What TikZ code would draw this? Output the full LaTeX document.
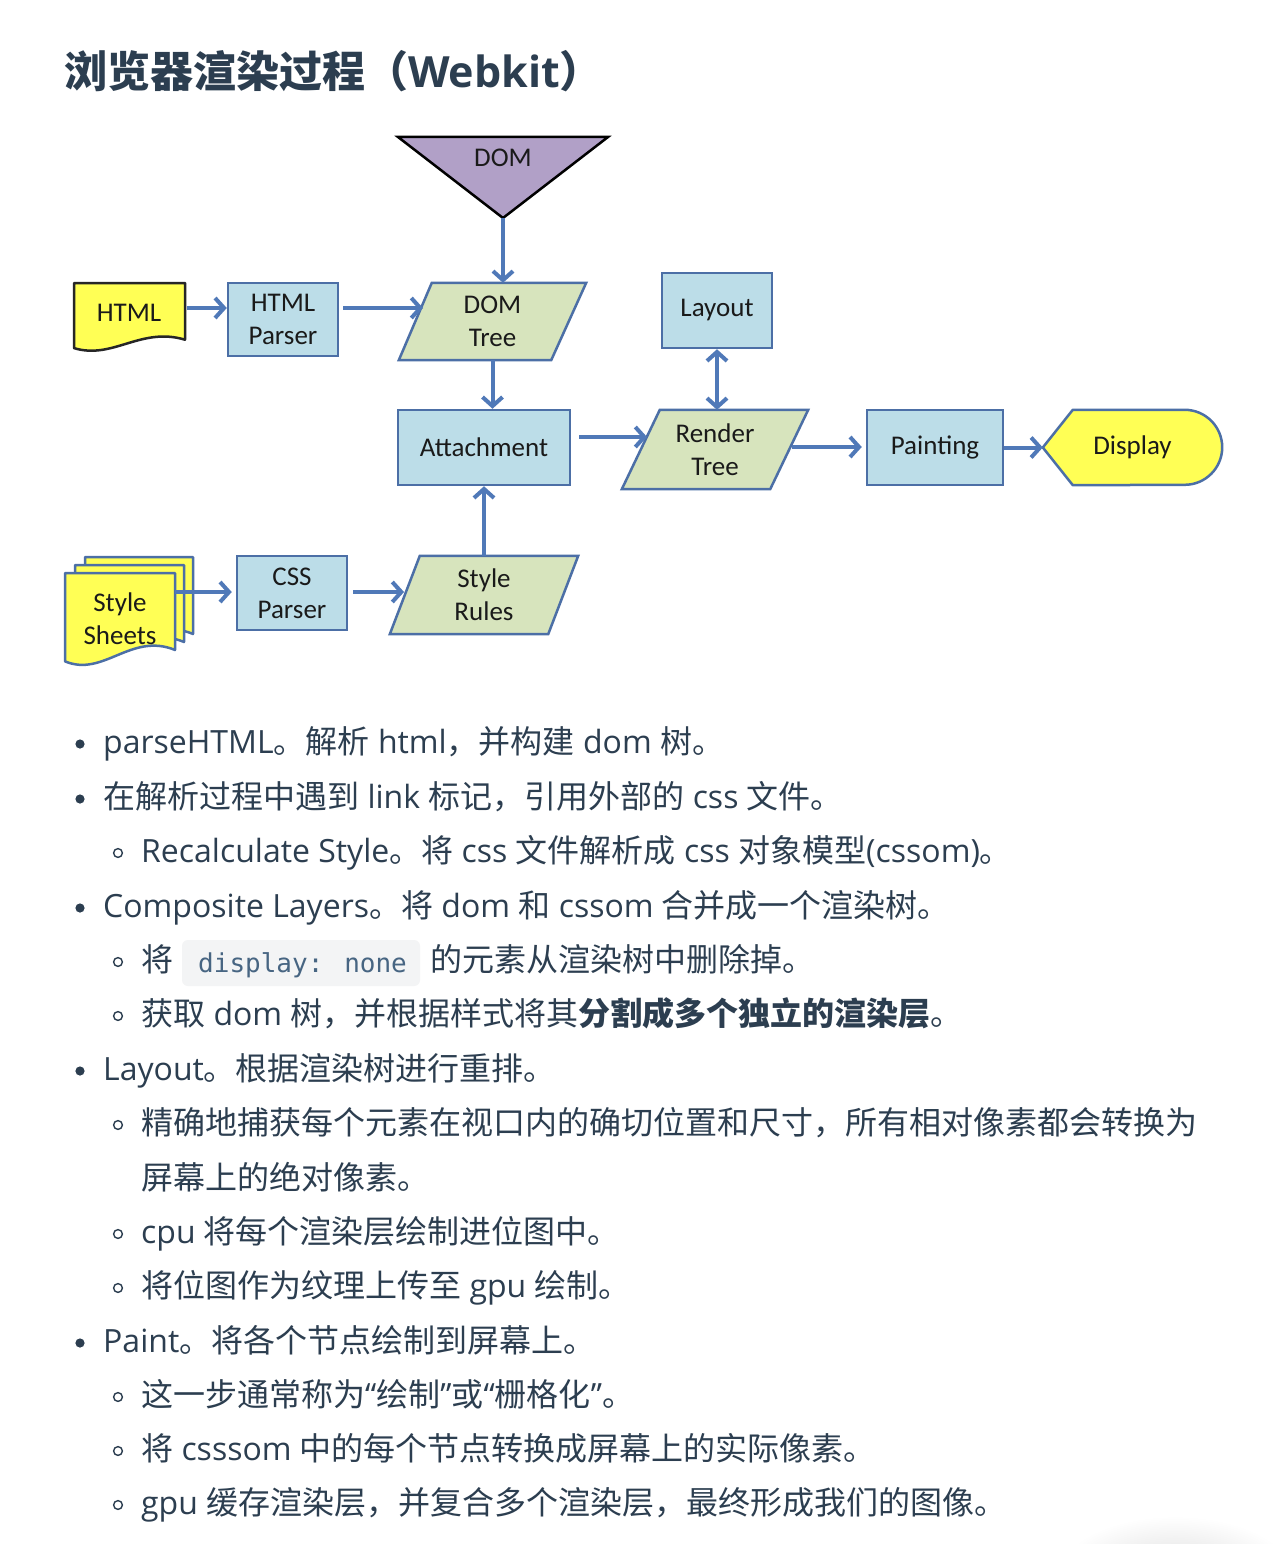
\documentclass[tikz,border=0pt]{standalone}
\usepackage{fontspec}
\setmainfont{Open Sans}
\newfontfamily\cjk{Noto Sans CJK SC}
\newfontfamily\calfont{Carlito}
\newfontfamily\monof{DejaVu Sans Mono}
\newcommand\zh[1]{{\cjk #1}}
\usetikzlibrary{arrows.meta}
\pgfdeclarelayer{bg}
\pgfdeclarelayer{mid}
\pgfsetlayers{bg,mid,main}
\definecolor{txt}{HTML}{2C3E50}
\definecolor{codec}{HTML}{476582}
\definecolor{codebg}{HTML}{F3F4F5}
\definecolor{arrblue}{HTML}{5079B8}
\definecolor{boxline}{HTML}{4C6FA6}
\definecolor{lblue}{HTML}{BCDDE8}
\definecolor{lgreen}{HTML}{D7E4BD}
\definecolor{yel}{HTML}{FFFF55}
\definecolor{purp}{HTML}{B1A0C7}
\definecolor{dtext}{HTML}{1A1A1A}
\tikzset{
  dfont/.style={font=\calfont\fontsize{27}{33}\selectfont, text=dtext, align=center},
  bluebox/.style={dfont, draw=boxline, line width=2.5pt, fill=lblue, inner sep=0pt},
  ghost/.style={dfont, draw=none, inner sep=0pt},
  para/.style={draw=boxline, line width=2.5pt, fill=lgreen, line join=miter},
  docshp/.style={line width=2.5pt, fill=yel, line join=round},
  arr/.style={draw=arrblue, line width=4pt, -{Straight Barb[length=9pt,width=20pt]}},
  darr/.style={draw=arrblue, line width=4pt, {Straight Barb[length=9pt,width=20pt]}-{Straight Barb[length=9pt,width=20pt]}},
  ltxt/.style={anchor=base west, inner sep=0pt, text=txt, font=\fontsize{32}{54}\selectfont},
}
% document shape: x, y, w, h, border colour
\newcommand\docpath[5]{%
  \draw[docshp, draw=#5] (#1,#2) -- ({#1+#3},#2) -- ({#1+#3},{#2+0.81*#4})
    .. controls ({#1+0.6*#3},{#2+0.62*#4}) and ({#1+0.35*#3},{#2+1.1*#4}) .. (#1,{#2+0.93*#4}) -- cycle;}
\begin{document}
\begin{tikzpicture}[x=1pt,y=-1pt]
\begin{pgfonlayer}{bg}
\fill[white] (0,0) rectangle (1278,1544);
\begin{scope}
\clip (0,0) rectangle (1278,1544);
\shade[inner color=black!14, outer color=white] (1175,1578) ellipse [x radius=120, y radius=62];
\end{scope}
\end{pgfonlayer}
\useasboundingbox (0,0) rectangle (1278,1544);

% title
\node[anchor=base west, inner sep=0pt, text=txt, font=\fontsize{43}{50}\selectfont\bfseries] (title) at (64,88) {\zh{\bfseries 浏览器渲染过程（}Webkit\zh{\bfseries ）}};

% ---------- diagram nodes ----------
\node[ghost, minimum width=210pt, minimum height=20pt] (dom) at (503,158) {DOM};
\coordinate (domtip) at (503,218);
\node[ghost, minimum width=111pt, minimum height=70pt] (html) at (129.5,318) {};
\node[dfont] (htmltxt) at (129,313) {HTML};
\node[bluebox, minimum width=110pt, minimum height=73pt] (hp) at (283,319.5) {HTML\\Parser};
\node[ghost, minimum width=187pt, minimum height=77pt] (dt) at (492.5,321.5) {DOM\\Tree};
\node[bluebox, minimum width=172pt, minimum height=75pt] (att) at (484,447.5) {Attachment};
\node[bluebox, minimum width=110pt, minimum height=75pt] (lay) at (717,310.5) {Layout};
\node[ghost, minimum width=186pt, minimum height=79pt] (rt) at (715,449.5) {Render\\Tree};
\node[bluebox, minimum width=136pt, minimum height=75pt] (paint) at (935,447.5) {Painting};
\node[ghost, minimum width=179pt, minimum height=75pt] (disp) at (1132.5,447.5) {Display};
\node[ghost, minimum width=110pt, minimum height=95pt] (ss) at (120,620.5) {};
\node[dfont] (sstxt) at (120,619) {Style\\Sheets};
\node[bluebox, minimum width=110pt, minimum height=74pt] (cssp) at (292,593) {CSS\\Parser};
\node[ghost, minimum width=188pt, minimum height=78pt] (sr) at (484,595) {Style\\Rules};

% ---------- shapes ----------
\begin{pgfonlayer}{mid}
\draw[draw=black, line width=2.5pt, fill=purp, line join=miter] (398,137) -- (608,137) -- (domtip) -- cycle;
\docpath{74}{283}{111}{70}{black!85}
\draw[para] ([xshift=33pt]dt.north west) -- (dt.north east) -- ([xshift=-35pt]dt.south east) -- (dt.south west) -- cycle;
\draw[para] ([xshift=38pt]rt.north west) -- (rt.north east) -- ([xshift=-38pt]rt.south east) -- (rt.south west) -- cycle;
\draw[para] ([xshift=30pt]sr.north west) -- (sr.north east) -- ([xshift=-30pt]sr.south east) -- (sr.south west) -- cycle;
\draw[docshp, draw=boxline] (disp.west) -- ([xshift=30pt]disp.north west) -- ([xshift=-37.5pt]disp.north east)
   arc[start angle=90, end angle=-90, radius=37.5pt] -- ([xshift=30pt]disp.south west) -- cycle;
\docpath{85}{557}{108}{95}{boxline}
\docpath{75}{565}{109}{95}{boxline}
\docpath{65}{573}{110}{95}{boxline}
\end{pgfonlayer}

% ---------- connectors ----------
\coordinate (r1) at (0,308);
\coordinate (r2) at (0,437);
\coordinate (r3) at (0,447);
\coordinate (r4) at (0,592);
\coordinate (dtin) at (423,308);
\coordinate (rtin) at (647,437);
\coordinate (rtout) at (792,447);
\coordinate (srin) at (404,592);
\draw[arr, shorten <=2pt] (html.east |- r1) -- (hp.west |- r1);
\draw[arr, shorten <=4pt] (hp.east |- r1) -- (dtin);
\draw[arr] (domtip) -- (domtip |- dt.north);
\draw[arr] (dt.south) -- (dt.south |- att.north);
\draw[arr, shorten <=8pt] (att.east |- r2) -- (rtin);
\draw[darr] (lay.south) -- (lay.south |- rt.north);
\draw[arr, shorten >=4pt] (rtout) -- (paint.west |- r3);
\draw[arr] (paint.east) -- (disp.west);
\draw[arr, shorten >=4pt] (ss.east |- r4) -- (cssp.west |- r4);
\draw[arr, shorten <=5pt] (cssp.east |- r4) -- (srin);
\draw[arr] (sr.north) -- (sr.north |- att.south);

% ---------- list ----------
\tikzset{dotb/.style={fill=txt}, ringb/.style={draw=txt, line width=1.4pt}}
\fill[dotb] (80,744) circle (4.6);
\node[ltxt] (l1) at (103,753) {parseHTML\zh{。解析} html\zh{，并构建} dom \zh{树。}};
\fill[dotb] (80,799) circle (4.6);
\node[ltxt] (l2) at (103,808) {\zh{在解析过程中遇到} link \zh{标记，引用外部的} css \zh{文件。}};
\draw[ringb] (118,853) circle (4.4);
\node[ltxt] (l3) at (141,862) {Recalculate Style\zh{。将} css \zh{文件解析成} css \zh{对象模型}(cssom)\zh{。}};
\fill[dotb] (80,908) circle (4.6);
\node[ltxt] (l4) at (103,917) {Composite Layers\zh{。将} dom \zh{和} cssom \zh{合并成一个渲染树。}};
\draw[ringb] (118,962) circle (4.4);
\node[ltxt] (l5a) at (141,971) {\zh{将}};
\node[fill=codebg, rounded corners=6pt, minimum width=238pt, minimum height=46pt, inner sep=0pt] (code) at (301,963) {};
\node[anchor=base west, inner sep=0pt, text=codec, font=\monof\fontsize{26}{30}\selectfont] (codet) at (198,972) {display: none};
\node[ltxt] (l5b) at (430,971) {\zh{的元素从渲染树中删除掉。}};
\draw[ringb] (118,1016) circle (4.4);
\node[ltxt] (l6) at (141,1025) {\zh{获取} dom \zh{树，并根据样式将其}\zh{\bfseries 分割成多个独立的渲染层}\zh{。}};
\fill[dotb] (80,1071) circle (4.6);
\node[ltxt] (l7) at (103,1080) {Layout\zh{。根据渲染树进行重排。}};
\draw[ringb] (118,1125) circle (4.4);
\node[ltxt] (l8) at (141,1134) {\zh{精确地捕获每个元素在视口内的确切位置和尺寸，所有相对像素都会转换为}};
\node[ltxt] (l9) at (141,1189) {\zh{屏幕上的绝对像素。}};
\draw[ringb] (118,1234) circle (4.4);
\node[ltxt] (l10) at (141,1243) {cpu \zh{将每个渲染层绘制进位图中。}};
\draw[ringb] (118,1288) circle (4.4);
\node[ltxt] (l11) at (141,1297) {\zh{将位图作为纹理上传至} gpu \zh{绘制。}};
\fill[dotb] (80,1343) circle (4.6);
\node[ltxt] (l12) at (103,1352) {Paint\zh{。将各个节点绘制到屏幕上。}};
\draw[ringb] (118,1397) circle (4.4);
\node[ltxt] (l13) at (141,1406) {\zh{这一步通常称为}“\zh{绘制}”\zh{或}“\zh{栅格化}”\zh{。}};
\draw[ringb] (118,1451) circle (4.4);
\node[ltxt] (l14) at (141,1460) {\zh{将} csssom \zh{中的每个节点转换成屏幕上的实际像素。}};
\draw[ringb] (118,1505) circle (4.4);
\node[ltxt] (l15) at (141,1514) {gpu \zh{缓存渲染层，并复合多个渲染层，最终形成我们的图像。}};
\end{tikzpicture}
\end{document}
